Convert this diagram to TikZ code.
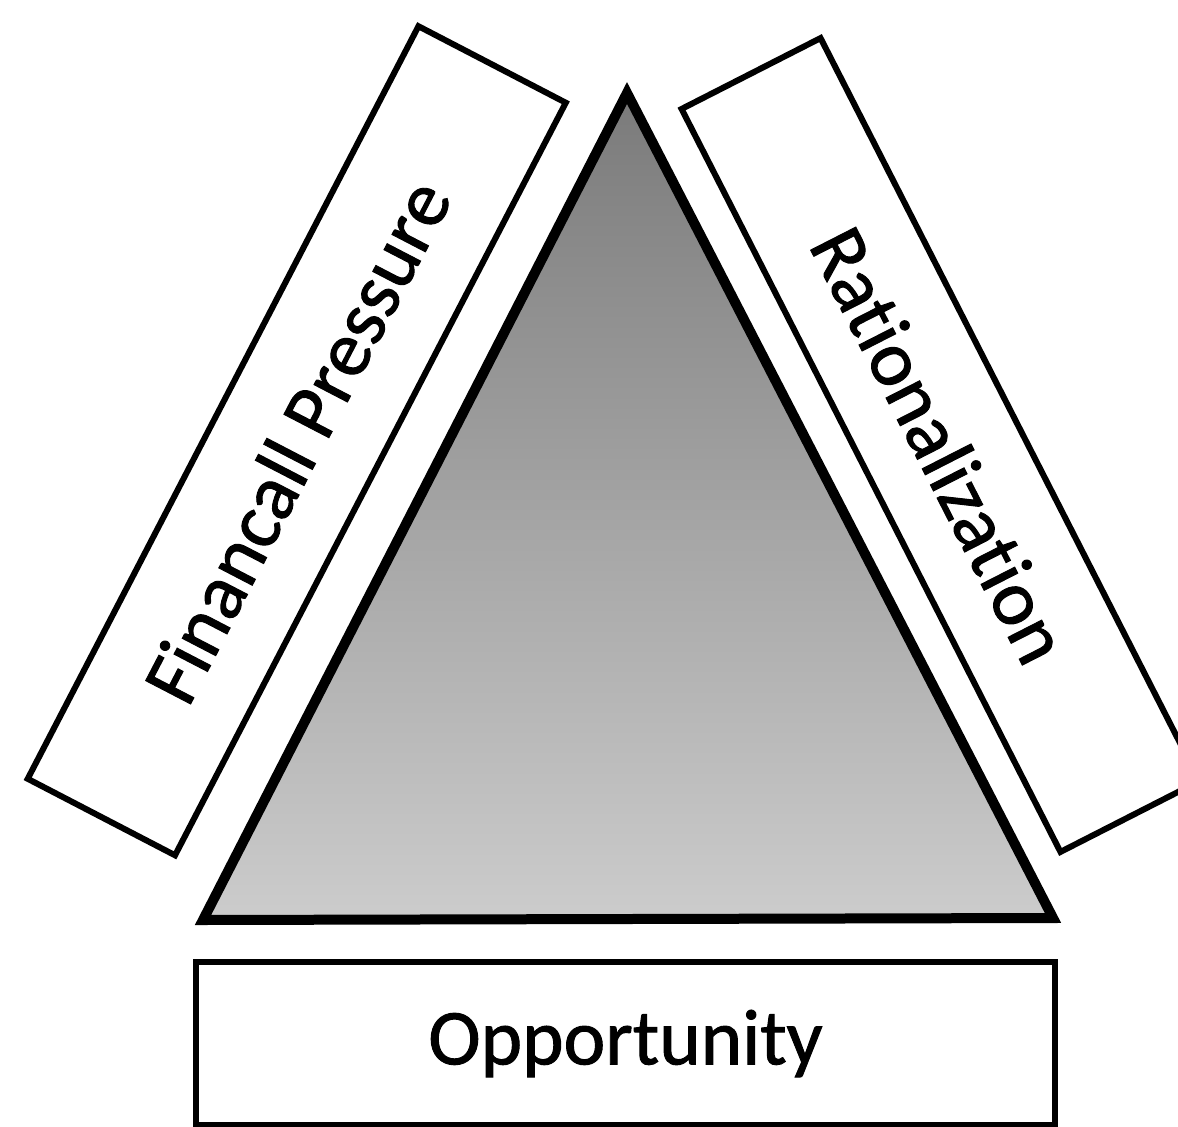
\documentclass[tikz,border=0pt]{standalone}
\usepackage{fontspec}
\setmainfont[FakeBold=1.2,Ligatures=CommonOff]{Carlito}
\begin{document}
\begin{tikzpicture}[x=1pt,y=-1pt,
  box/.style={draw=black, line width=6pt, inner sep=0pt, font=\fontsize{79}{90}\selectfont},
  tri/.style={draw=black, line width=10pt, line join=miter}]
\useasboundingbox (0,0) rectangle (1178,1127);
\coordinate (apex) at (627,93);
\coordinate (bl) at (203,920);
\coordinate (br) at (1053,918);
\shade[top color=black!52, middle color=black!40, bottom color=black!20] (apex) -- (bl) -- (br) -- cycle;
\draw[tri] (apex) -- (bl) -- (br) -- cycle;
\node[box, rotate=62.56, minimum width=848pt, minimum height=166pt] (fp) at (296.75,440.75) {Financall Pressure};
\node[box, rotate=-62.98, minimum width=834pt, minimum height=156pt] (ra) at (940.5,445) {Rationalization};
\node[box, minimum width=859pt, minimum height=163pt] (op) at (625.5,1043.5) {Opportunity};
\end{tikzpicture}
\end{document}
